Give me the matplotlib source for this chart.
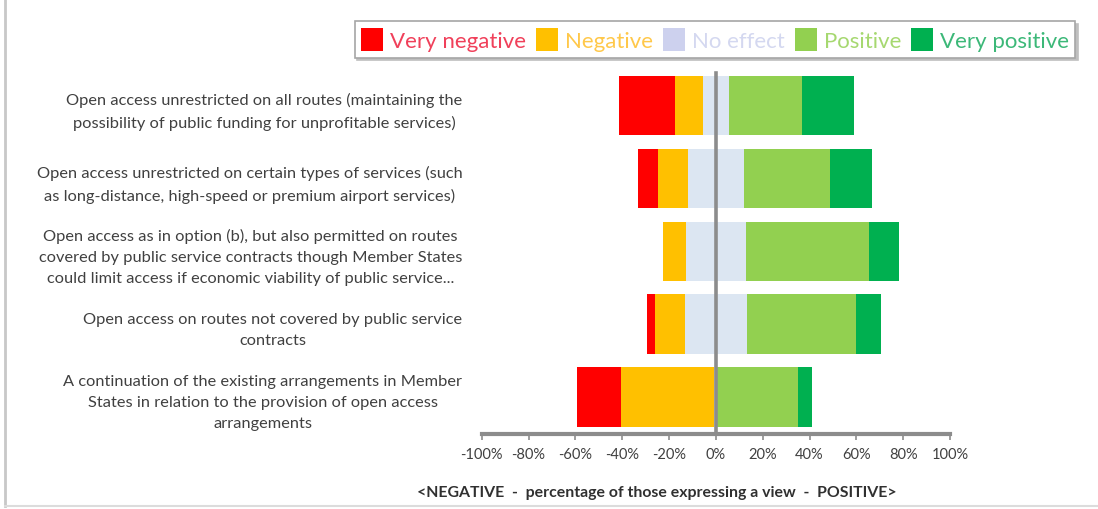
#!/usr/bin/env python3
"""Diverging stacked bar chart: views on open access options."""

import matplotlib.pyplot as plt
import numpy as np
from matplotlib.lines import Line2D
from matplotlib.patches import Patch

plt.rcParams['font.family'] = ['Lato', 'DejaVu Sans']

# Data (percent of those expressing a view), top to bottom
options = [
    'Open access unrestricted on all routes (maintaining the\n'
    'possibility of public funding for unprofitable services)',
    'Open access unrestricted on certain types of services (such\n'
    'as long-distance, high-speed or premium airport services)',
    'Open access as in option (b), but also permitted on routes\n'
    'covered by public service contracts though Member States\n'
    'could limit access if economic viability of public service...',
    'Open access on routes not covered by public service\n'
    'contracts',
    'A continuation of the existing arrangements in Member\n'
    'States in relation to the provision of open access\n'
    'arrangements',
]
very_negative = [24, 8.6, 0, 3.4, 18.6]
negative = [12, 12.8, 9.9, 12.8, 40]
no_effect = [11, 23.8, 25.4, 26.5, 1.2]
positive = [31.5, 37, 52.7, 46.6, 34.5]
very_positive = [22, 17.8, 12.7, 10.7, 6]

categories = ['Very negative', 'Negative', 'No effect', 'Positive', 'Very positive']
bar_colors = ['#FF0000', '#FFC000', '#DCE6F2', '#92D050', '#00B050']
legend_colors = ['#FF0000', '#FFC000', '#CDD1EE', '#92D050', '#00B050']
text_colors = ['#F0405A', '#FFC84A', '#D4D8F0', '#A6D870', '#3CB878']
xticks = [-100, -80, -60, -40, -20, 0, 20, 40, 60, 80, 100]

W, H = 1098, 510
fig = plt.figure(figsize=(W / 100, H / 100), dpi=100)
ax = fig.add_axes([481.7 / W, 1 - 434.5 / H, 468.3 / W, 364.5 / H])

y = np.arange(len(options))
vn = np.array(very_negative)
ng = np.array(negative)
ne = np.array(no_effect)
ps = np.array(positive)
vp = np.array(very_positive)
h = 0.815

# negative side: half of "no effect" sits left of zero
ax.barh(y, -ne / 2, height=h, color=bar_colors[2], linewidth=0)
ax.barh(y, -ng, left=-ne / 2, height=h, color=bar_colors[1], linewidth=0)
ax.barh(y, -vn, left=-ne / 2 - ng, height=h, color=bar_colors[0], linewidth=0)
# positive side
ax.barh(y, ne / 2, height=h, color=bar_colors[2], linewidth=0)
ax.barh(y, ps, left=ne / 2, height=h, color=bar_colors[3], linewidth=0)
ax.barh(y, vp, left=ne / 2 + ps, height=h, color=bar_colors[4], linewidth=0)

ax.axvline(0, ymin=0, ymax=0.99, color='#8C8C8C', linewidth=2.6, zorder=5)

ax.set_xlim(-100, 100)
ax.set_ylim(len(options) - 0.5, -0.5)
ax.set_xticks(xticks)
ax.set_xticklabels([f'{t}%' for t in xticks], fontsize=10.5, color='#404040')
ax.set_yticks(y)
ax.set_yticklabels(options, fontsize=11.8, color='#404040',
                   multialignment='center', linespacing=1.65)
ax.tick_params(axis='y', length=0, pad=14)
ax.tick_params(axis='x', length=4, width=1.2, color='#8C8C8C', direction='out', pad=6)

for side in ['top', 'left', 'right']:
    ax.spines[side].set_visible(False)
ax.spines['bottom'].set_color('#8C8C8C')
ax.spines['bottom'].set_linewidth(3)

fig.text(657 / W, 1 - 493 / H,
         '<NEGATIVE  -  percentage of those expressing a view  -  POSITIVE>',
         ha='center', va='center', fontsize=11.4, fontweight='bold', color='#303030')

# legend with coloured text
handles = [Patch(facecolor=c, edgecolor='none') for c in legend_colors]
leg = fig.legend(handles, categories, ncol=5, loc='center',
                 bbox_to_anchor=(715 / W, 1 - 40.5 / H),
                 fontsize=16, frameon=True, fancybox=False,
                 handlelength=1.0, handleheight=1.2, handletextpad=0.3,
                 columnspacing=0.45, borderpad=0.3,
                 shadow={'color': '0.75', 'alpha': 1})
leg.get_frame().set_edgecolor('#A6A6A6')
leg.get_frame().set_linewidth(1.2)
for txt, c in zip(leg.get_texts(), text_colors):
    txt.set_color(c)

# faint page border on the left and bottom
fig.add_artist(Line2D([5 / W, 5 / W], [0.005, 1], color='#C8C8C8', linewidth=2))
fig.add_artist(Line2D([5 / W, 1], [0.005, 0.005], color='#DCDCDC', linewidth=1.5))

plt.savefig('out.png', dpi=100)
